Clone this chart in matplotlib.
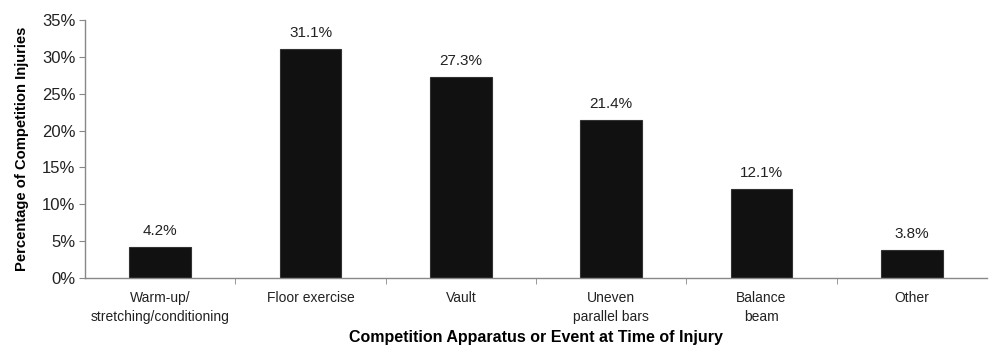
import matplotlib.pyplot as plt
import numpy as np

plt.rcParams['font.family'] = ['Liberation Sans', 'DejaVu Sans']

categories = ["Warm-up/\nstretching/conditioning", "Floor exercise", "Vault",
              "Uneven\nparallel bars", "Balance\nbeam", "Other"]
values = [4.2, 31.1, 27.3, 21.4, 12.1, 3.8]
yticks = [0, 5, 10, 15, 20, 25, 30, 35]

fig = plt.figure(figsize=(9.89, 3.45), dpi=100)
ax = fig.add_axes([0.086, 0.194, 0.912, 0.748])

x = np.arange(len(categories))
ax.bar(x, values, width=0.41, color='#111111', edgecolor='#333333', linewidth=0.8)
for xi, v in zip(x, values):
    ax.text(xi, v + 1.2, f"{v:.1f}%", ha='center', va='bottom', fontsize=11, color='#222222')

ax.set_xlim(-0.5, 5.5)
ax.set_ylim(0, 35)
ax.set_yticks(yticks)
ax.set_yticklabels([f"{t}%" for t in yticks], fontsize=12, color='#222222')
ax.set_xticks(x)
ax.set_xticklabels(categories, fontsize=10, color='#222222', linespacing=1.45)
ax.tick_params(axis='x', which='major', length=0, pad=9)
ax.set_xticks(x[:-1] + 0.5, minor=True)
ax.tick_params(axis='x', which='minor', length=4, color='#888888')
ax.tick_params(axis='y', length=4, color='#888888', pad=3)

for s in ['top', 'right']:
    ax.spines[s].set_visible(False)
for s in ['left', 'bottom']:
    ax.spines[s].set_color('#888888')
    ax.spines[s].set_linewidth(1.0)

ax.set_ylabel("Percentage of Competition Injuries", fontsize=10.6, fontweight='bold', labelpad=9)
ax.set_xlabel("Competition Apparatus or Event at Time of Injury", fontsize=11.5,
              fontweight='bold', labelpad=5)

fig.savefig("out.png", dpi=100)
